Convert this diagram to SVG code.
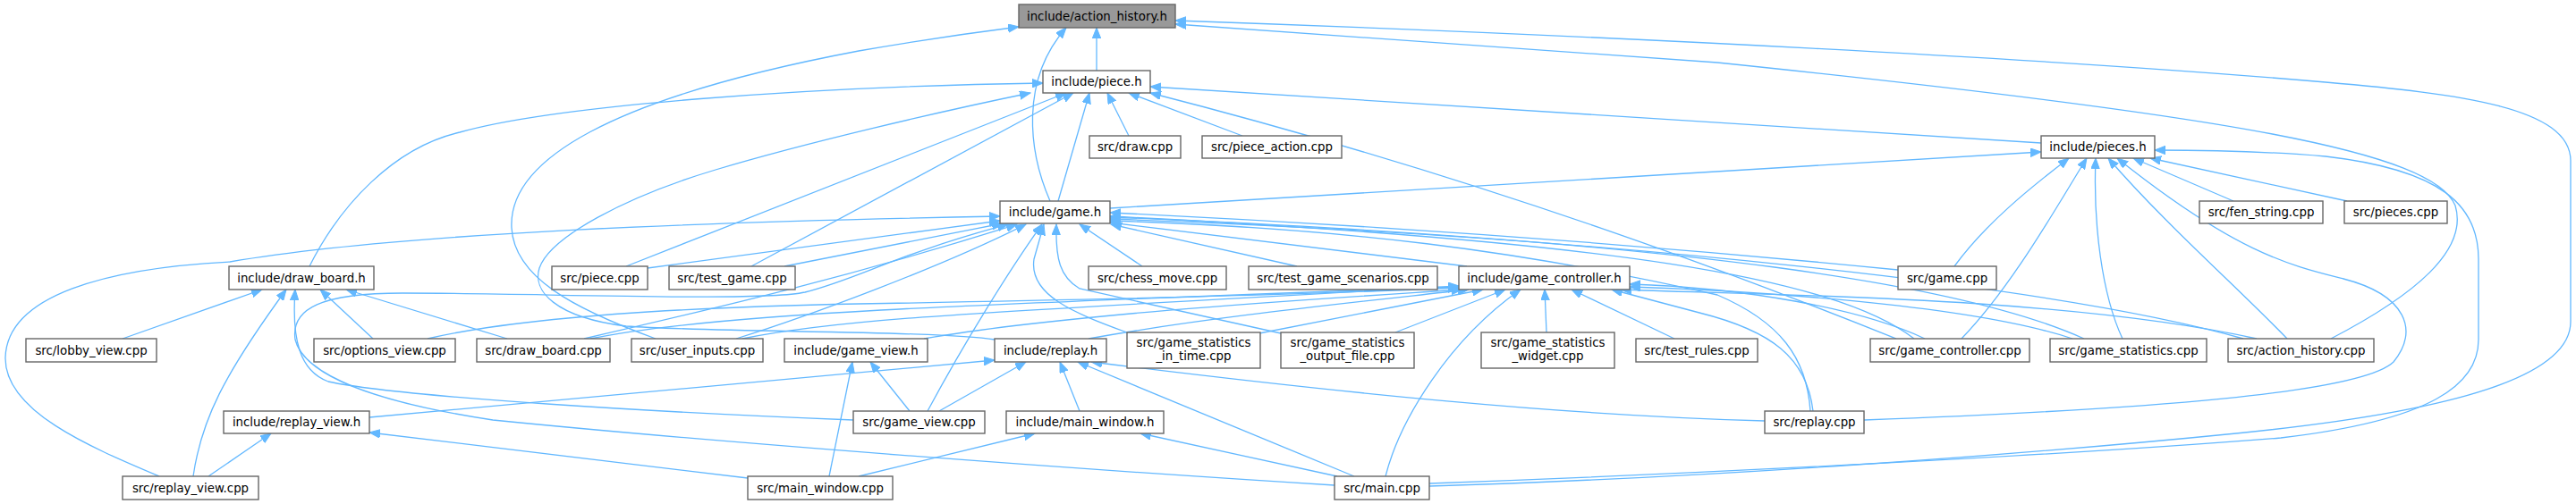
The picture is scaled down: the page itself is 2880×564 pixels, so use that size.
<svg xmlns="http://www.w3.org/2000/svg" width="2880" height="564" viewBox="0 0 2880 564">
<defs>
<style>
.n rect{fill:#ffffff;stroke:#666666;stroke-width:1.4}
.n.main rect{fill:#999999}
.n text{font-family:"DejaVu Sans",sans-serif;font-size:13.33px;fill:#000000;text-anchor:middle}
.e path{fill:none;stroke:#63b8ff;stroke-width:1.3;marker-end:url(#ah)}
</style>
<marker id="ah" markerWidth="13" markerHeight="10" refX="12" refY="4.75" orient="auto" markerUnits="userSpaceOnUse"><path d="M0,0 L12,4.75 L0,9.5 z" fill="#63b8ff" stroke="#63b8ff" stroke-width="1"/></marker>
</defs>
<rect width="2880" height="564" fill="#ffffff"/>
<g id="edges" class="e">
<path d="M1226,79 L1226,31"/>
<path d="M1174,225 C1150,170 1140,90 1192,31"/>
<path d="M733,379 C640,345 575,310 572,255 C568,180 680,110 960,57 C1040,43 1100,35 1139,30"/>
<path d="M1598,544 C1900,535 2250,510 2500,485 C2750,460 2874,420 2874,360 L2874,180 C2874,120 2750,105 2600,92 C2300,66 1800,40 1314,23"/>
<path d="M2606,379 C2700,330 2760,280 2745,230 C2720,170 2500,130 1920,70 L1314,27"/>
<path d="M346,298 C380,230 440,165 514,148 C620,118 900,97 1166,93"/>
<path d="M1112,380 C1050,370 800,372 700,365 C620,355 595,325 603,300 C615,265 700,220 800,190 C900,160 1050,125 1152,104"/>
<path d="M700,298 L1192,104"/>
<path d="M840,298 L1200,104"/>
<path d="M1183,225 L1218,104"/>
<path d="M1262,152 L1238,104"/>
<path d="M1389,152 L1262,104"/>
<path d="M2282,160 L1286,97"/>
<path d="M2120,379 C2010,335 1700,210 1286,104"/>
<path d="M1241,233 L2282,170"/>
<path d="M2185,298 C2220,250 2270,210 2313,177"/>
<path d="M2193,379 C2250,320 2300,230 2333,177"/>
<path d="M2373,379 C2350,330 2340,250 2343,177"/>
<path d="M2557,379 C2500,320 2420,250 2357,177"/>
<path d="M2084,470 C2400,458 2640,440 2676,405 C2705,370 2690,330 2620,312 C2560,297 2500,283 2367,177"/>
<path d="M2497,225 L2385,177"/>
<path d="M2624,225 L2404,177"/>
<path d="M1598,541 C1900,530 2300,510 2550,490 C2720,470 2771,430 2771,380 L2771,290 C2771,230 2730,190 2600,175 C2520,168 2450,168 2409,168"/>
<path d="M178,533 C100,500 5,460 6,400 C8,330 120,300 257,293 C450,260 800,248 1118,242"/>
<path d="M724,300 L1118,247"/>
<path d="M877,298 L1121,250"/>
<path d="M1492,543 C1200,525 800,495 551,470 C420,450 340,420 330,380 C325,345 360,328 450,328 C600,328 850,338 900,327 C960,312 1000,285 1127,251"/>
<path d="M653,379 C800,345 950,310 1137,251"/>
<path d="M823,379 C900,355 1050,300 1147,251"/>
<path d="M1037,460 C1080,380 1130,300 1165,251"/>
<path d="M1260,372 C1200,350 1150,330 1156,290 L1167,251"/>
<path d="M1432,373 L1207,323 C1185,310 1180,290 1181,251"/>
<path d="M1277,298 L1207,251"/>
<path d="M1450,298 L1242,251"/>
<path d="M1640,298 L1241,249"/>
<path d="M2122,302 C1900,280 1600,255 1241,238"/>
<path d="M2140,379 C2050,310 1800,270 1241,242"/>
<path d="M2330,379 C2200,320 1900,270 1241,243"/>
<path d="M2508,379 C2300,320 1800,265 1241,245"/>
<path d="M2024,460 C2020,400 1990,360 1920,330 C1700,280 1500,255 1241,247"/>
<path d="M478,379 C560,360 700,345 960,340 C1200,336 1450,330 1631,322"/>
<path d="M660,379 C800,350 1100,340 1631,321"/>
<path d="M830,379 C950,355 1100,350 1631,320"/>
<path d="M1033,379 C1200,350 1500,333 1635,324"/>
<path d="M1217,379 C1350,355 1500,340 1642,324"/>
<path d="M1408,373 L1658,324"/>
<path d="M1560,372 L1683,324"/>
<path d="M1729,372 L1727,324"/>
<path d="M1872,379 L1757,324"/>
<path d="M1549,533 C1565,470 1620,380 1700,324"/>
<path d="M2152,379 C2080,345 1950,322 1822,318"/>
<path d="M2317,379 C2200,340 1950,325 1822,321"/>
<path d="M2523,379 C2300,330 1950,330 1812,324"/>
<path d="M2027,460 C2020,400 1980,370 1900,350 L1802,324"/>
<path d="M137,379 L293,324"/>
<path d="M216,533 C225,470 250,420 320,324"/>
<path d="M954,470 C750,462 450,445 367,427 C335,415 326,380 330,324"/>
<path d="M417,379 L358,324"/>
<path d="M567,379 L387,324"/>
<path d="M413,467 L1112,403"/>
<path d="M1050,460 L1147,405"/>
<path d="M1207,460 L1185,405"/>
<path d="M1514,533 L1205,405"/>
<path d="M1973,471 C1750,465 1500,440 1220,405"/>
<path d="M1017,460 L973,405"/>
<path d="M927,533 L953,405"/>
<path d="M233,533 L303,485"/>
<path d="M836,535 L413,484"/>
<path d="M960,533 L1157,485"/>
<path d="M1495,533 L1275,485"/>
</g>
<g id="n_action_history_h" class="n main"><rect x="1139" y="5" width="175" height="26"/><text x="1226.5" y="22.5">include/action_history.h</text></g>
<g id="n_piece_h" class="n"><rect x="1166" y="79" width="120" height="25"/><text x="1226" y="96">include/piece.h</text></g>
<g id="n_draw_cpp" class="n"><rect x="1218" y="152" width="102" height="25"/><text x="1269" y="169">src/draw.cpp</text></g>
<g id="n_piece_action_cpp" class="n"><rect x="1344" y="152" width="156" height="25"/><text x="1422" y="169">src/piece_action.cpp</text></g>
<g id="n_pieces_h" class="n"><rect x="2282" y="152" width="127" height="25"/><text x="2345.5" y="169">include/pieces.h</text></g>
<g id="n_game_h" class="n"><rect x="1118" y="225" width="123" height="25"/><text x="1179.5" y="242">include/game.h</text></g>
<g id="n_fen_string_cpp" class="n"><rect x="2459" y="225" width="138" height="25"/><text x="2528" y="242">src/fen_string.cpp</text></g>
<g id="n_pieces_cpp" class="n"><rect x="2621" y="225" width="115" height="25"/><text x="2678.5" y="242">src/pieces.cpp</text></g>
<g id="n_draw_board_h" class="n"><rect x="256" y="298" width="162" height="26"/><text x="337" y="315.5">include/draw_board.h</text></g>
<g id="n_piece_cpp" class="n"><rect x="617" y="298" width="107" height="26"/><text x="670.5" y="315.5">src/piece.cpp</text></g>
<g id="n_test_game_cpp" class="n"><rect x="748" y="298" width="141" height="26"/><text x="818.5" y="315.5">src/test_game.cpp</text></g>
<g id="n_chess_move_cpp" class="n"><rect x="1217" y="298" width="154" height="26"/><text x="1294" y="315.5">src/chess_move.cpp</text></g>
<g id="n_test_game_scenarios_cpp" class="n"><rect x="1396" y="298" width="211" height="26"/><text x="1501.5" y="315.5">src/test_game_scenarios.cpp</text></g>
<g id="n_game_controller_h" class="n"><rect x="1631" y="298" width="191" height="26"/><text x="1726.5" y="315.5">include/game_controller.h</text></g>
<g id="n_game_cpp" class="n"><rect x="2122" y="298" width="110" height="26"/><text x="2177" y="315.5">src/game.cpp</text></g>
<g id="n_lobby_view_cpp" class="n"><rect x="29" y="379" width="146" height="26"/><text x="102" y="396.5">src/lobby_view.cpp</text></g>
<g id="n_options_view_cpp" class="n"><rect x="351" y="379" width="158" height="26"/><text x="430" y="396.5">src/options_view.cpp</text></g>
<g id="n_draw_board_cpp" class="n"><rect x="533" y="379" width="149" height="26"/><text x="607.5" y="396.5">src/draw_board.cpp</text></g>
<g id="n_user_inputs_cpp" class="n"><rect x="706" y="379" width="147" height="26"/><text x="779.5" y="396.5">src/user_inputs.cpp</text></g>
<g id="n_game_view_h" class="n"><rect x="877" y="379" width="160" height="26"/><text x="957" y="396.5">include/game_view.h</text></g>
<g id="n_replay_h" class="n"><rect x="1112" y="379" width="125" height="26"/><text x="1174.5" y="396.5">include/replay.h</text></g>
<g id="n_gs_in_time_cpp" class="n"><rect x="1260" y="372" width="149" height="40"/><text x="1334.5" y="388">src/game_statistics</text><text x="1334.5" y="403">_in_time.cpp</text></g>
<g id="n_gs_output_file_cpp" class="n"><rect x="1432" y="372" width="149" height="40"/><text x="1506.5" y="388">src/game_statistics</text><text x="1506.5" y="403">_output_file.cpp</text></g>
<g id="n_gs_widget_cpp" class="n"><rect x="1656" y="372" width="149" height="40"/><text x="1730.5" y="388">src/game_statistics</text><text x="1730.5" y="403">_widget.cpp</text></g>
<g id="n_test_rules_cpp" class="n"><rect x="1829" y="379" width="136" height="26"/><text x="1897" y="396.5">src/test_rules.cpp</text></g>
<g id="n_game_controller_cpp" class="n"><rect x="2091" y="379" width="178" height="26"/><text x="2180" y="396.5">src/game_controller.cpp</text></g>
<g id="n_game_statistics_cpp" class="n"><rect x="2292" y="379" width="175" height="26"/><text x="2379.5" y="396.5">src/game_statistics.cpp</text></g>
<g id="n_action_history_cpp" class="n"><rect x="2491" y="379" width="163" height="26"/><text x="2572.5" y="396.5">src/action_history.cpp</text></g>
<g id="n_replay_view_h" class="n"><rect x="250" y="460" width="163" height="25"/><text x="331.5" y="477">include/replay_view.h</text></g>
<g id="n_game_view_cpp" class="n"><rect x="954" y="460" width="147" height="25"/><text x="1027.5" y="477">src/game_view.cpp</text></g>
<g id="n_main_window_h" class="n"><rect x="1125" y="460" width="176" height="25"/><text x="1213" y="477">include/main_window.h</text></g>
<g id="n_replay_cpp" class="n"><rect x="1973" y="460" width="111" height="25"/><text x="2028.5" y="477">src/replay.cpp</text></g>
<g id="n_replay_view_cpp" class="n"><rect x="137" y="533" width="152" height="26"/><text x="213" y="550.5">src/replay_view.cpp</text></g>
<g id="n_main_window_cpp" class="n"><rect x="836" y="533" width="162" height="26"/><text x="917" y="550.5">src/main_window.cpp</text></g>
<g id="n_main_cpp" class="n"><rect x="1492" y="533" width="106" height="26"/><text x="1545" y="550.5">src/main.cpp</text></g>
</svg>
